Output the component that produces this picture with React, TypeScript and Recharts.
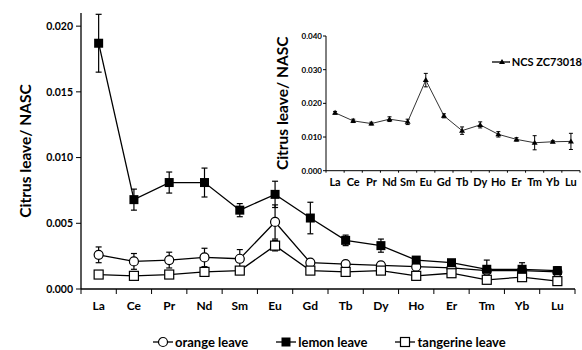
import { ErrorBar, Legend, Line, LineChart, XAxis, YAxis } from "recharts";

const elements = ["La", "Ce", "Pr", "Nd", "Sm", "Eu", "Gd", "Tb", "Dy", "Ho", "Er", "Tm", "Yb", "Lu"];

const orange = [0.0026, 0.0021, 0.0022, 0.0024, 0.0023, 0.0051, 0.002, 0.0019, 0.0018, 0.0017, 0.0016, 0.0014, 0.0014, 0.0013];
const orangeErr = [0.0006, 0.0006, 0.0006, 0.0007, 0.0007, 0.0013, 0.0002, 0.0002, 0.0002, 0.0002, 0.0002, 0.0002, 0.0002, 0.0002];
const lemon = [0.0187, 0.0068, 0.0081, 0.0081, 0.006, 0.0072, 0.0054, 0.0037, 0.0033, 0.0022, 0.002, 0.0015, 0.0015, 0.0014];
const lemonErr = [0.0022, 0.0008, 0.0008, 0.0011, 0.0005, 0.001, 0.0012, 0.0004, 0.0005, 0.0002, 0.0002, 0.0007, 0.0005, 0.0003];
const tangerine = [0.0011, 0.001, 0.0011, 0.0013, 0.0014, 0.0033, 0.0014, 0.0013, 0.0014, 0.001, 0.0012, 0.0007, 0.0009, 0.0006];
const tangerineErr = [0.0001, 0.0001, 0.0001, 0.0001, 0.0001, 0.0004, 0.0001, 0.0001, 0.0001, 0.0001, 0.0001, 0.0001, 0.0001, 0.0001];

const ncs = [0.0172, 0.0148, 0.014, 0.0153, 0.0145, 0.0269, 0.0163, 0.0119, 0.0136, 0.0108, 0.0093, 0.0083, 0.0086, 0.0087];
const ncsErr = [0.0004, 0.0005, 0.0004, 0.0007, 0.0008, 0.002, 0.0006, 0.0011, 0.0009, 0.0008, 0.0005, 0.0021, 0.0003, 0.0024];

const mainTicks = [0, 0.005, 0.01, 0.015, 0.02];
const insetTicks = [0, 0.01, 0.02, 0.03, 0.04];

const FONT = "Lato, 'Open Sans', sans-serif";
const INK = "#000";

const mainData = elements.map((el, i) => ({
  el,
  orange: orange[i],
  orangeErr: orangeErr[i],
  lemon: lemon[i],
  lemonErr: lemonErr[i],
  tangerine: tangerine[i],
  tangerineErr: tangerineErr[i],
}));

const insetData = elements.map((el, i) => ({ el, ncs: ncs[i], ncsErr: ncsErr[i] }));

// category tick: label at band centre, tick mark on band edges
const bandTick = (fontSize: number, baseline: number, markLen: number) => (props: any) => {
  const { x, y, payload, index, visibleTicksCount, width } = props;
  const half = payload.offset || width / visibleTicksCount / 2;
  const isLast = index === visibleTicksCount - 1;
  return (
    <g>
      <line x1={x - half} x2={x - half} y1={y} y2={y + markLen} stroke={INK} strokeWidth={1} />
      {isLast && <line x1={x + half} x2={x + half} y1={y} y2={y + markLen} stroke={INK} strokeWidth={1} />}
      <text x={x} y={y + baseline} textAnchor="middle" fontSize={fontSize} fontWeight={700} fontFamily={FONT} fill={INK}>
        {payload.value}
      </text>
    </g>
  );
};

const yTitle = (x: number, fontSize: number) => (props: any) => {
  const vb = props.viewBox;
  const cy = vb.y + vb.height / 2;
  return (
    <text
      x={x}
      y={cy}
      transform={`rotate(-90 ${x} ${cy})`}
      textAnchor="middle"
      dominantBaseline="central"
      fontSize={fontSize}
      fontWeight={700}
      fontFamily={FONT}
      fill={INK}
    >
      Citrus leave/ NASC
    </text>
  );
};

const OpenCircle = (props: any) => {
  const { cx, cy, index } = props;
  return <circle key={`o-${index}`} cx={cx} cy={cy} r={4.5} fill="#fff" stroke={INK} strokeWidth={1.2} />;
};
const FilledSquare = (props: any) => {
  const { cx, cy, index } = props;
  return <rect key={`l-${index}`} x={cx - 4.5} y={cy - 4.5} width={9} height={9} fill={INK} />;
};
const OpenSquare = (props: any) => {
  const { cx, cy, index } = props;
  return <rect key={`t-${index}`} x={cx - 4.5} y={cy - 4.5} width={9} height={9} fill="#fff" stroke={INK} strokeWidth={1.2} />;
};
const Triangle = (props: any) => {
  const { cx, cy, index } = props;
  return <path key={`n-${index}`} d={`M${cx},${cy - 3} L${cx + 3},${cy + 2} L${cx - 3},${cy + 2} Z`} fill={INK} />;
};

const legendIcon = (kind: string) => (
  <svg width={20} height={12} style={{ display: "block" }}>
    <line x1={0} x2={20} y1={6} y2={6} stroke={INK} strokeWidth={1.3} />
    {kind === "orange" && <circle cx={10} cy={6} r={4.5} fill="#fff" stroke={INK} strokeWidth={1.2} />}
    {kind === "lemon" && <rect x={5.5} y={1.5} width={9} height={9} fill={INK} />}
    {kind === "tangerine" && <rect x={5.5} y={1.5} width={9} height={9} fill="#fff" stroke={INK} strokeWidth={1.2} />}
    {kind === "ncs" && <path d="M10,3 L13,8 L7,8 Z" fill={INK} />}
  </svg>
);

const legendItems = [
  { kind: "orange", label: "orange leave" },
  { kind: "lemon", label: "lemon leave" },
  { kind: "tangerine", label: "tangerine leave" },
];

const MainLegend = () => (
  <div style={{ display: "flex", alignItems: "center", gap: 28, paddingLeft: 153, fontFamily: FONT, fontWeight: 700, fontSize: 13, lineHeight: "14px" }}>
    {legendItems.map((it) => (
      <div key={it.kind} style={{ display: "flex", alignItems: "center", gap: 2 }}>
        {legendIcon(it.kind)}
        <span>{it.label}</span>
      </div>
    ))}
  </div>
);

const InsetLegend = () => (
  <div style={{ display: "flex", alignItems: "center", gap: 2, fontFamily: FONT, fontWeight: 700, fontSize: 11, whiteSpace: "nowrap" }}>
    {legendIcon("ncs")}
    <span>NCS ZC73018</span>
  </div>
);

export default function App() {
  return (
    <div style={{ position: "absolute", left: 0, top: 0, width: 582, height: 350, background: "#fff", overflow: "hidden" }}>
      <div style={{ position: "absolute", left: 0, top: 0 }}>
        <LineChart width={582} height={350} data={mainData} margin={{ top: 13, right: 7, left: 0, bottom: 31 }}>
          <XAxis
            dataKey="el"
            scale="band"
            height={30}
            tickLine={false}
            tickSize={0}
            tickMargin={0}
            axisLine={{ stroke: INK, strokeWidth: 1.3 }}
            tick={bandTick(12, 21, 5)}
            interval={0}
          />
          <YAxis
            width={81}
            domain={[0, 0.021]}
            ticks={mainTicks}
            tickFormatter={(v: number) => v.toFixed(3)}
            tickSize={5}
            tickMargin={3}
            axisLine={{ stroke: INK, strokeWidth: 1.3 }}
            tickLine={{ stroke: INK }}
            tick={{ fill: INK, fontSize: 10.5, fontWeight: 700, fontFamily: FONT }}
            label={{ content: yTitle(25, 15.5) }}
          />
          <Line dataKey="orange" stroke={INK} strokeWidth={1.3} dot={OpenCircle} isAnimationActive={false}>
            <ErrorBar dataKey="orangeErr" width={3} stroke={INK} strokeWidth={1.2} />
          </Line>
          <Line dataKey="tangerine" stroke={INK} strokeWidth={1.3} dot={OpenSquare} isAnimationActive={false}>
            <ErrorBar dataKey="tangerineErr" width={3} stroke={INK} strokeWidth={1.2} />
          </Line>
          <Line dataKey="lemon" stroke={INK} strokeWidth={1.3} dot={FilledSquare} isAnimationActive={false}>
            <ErrorBar dataKey="lemonErr" width={3} stroke={INK} strokeWidth={1.2} />
          </Line>
        </LineChart>
      </div>
      <div style={{ position: "absolute", left: 0, top: 335, width: 582 }}>
        <MainLegend />
      </div>
      <div style={{ position: "absolute", left: 240, top: 0 }}>
        <LineChart width={342} height={200} data={insetData} margin={{ top: 36, right: 2, left: 0, bottom: 0 }}>
          <XAxis
            dataKey="el"
            scale="band"
            height={29.3}
            tickLine={false}
            tickSize={0}
            tickMargin={0}
            axisLine={{ stroke: INK, strokeWidth: 1 }}
            tick={bandTick(11, 15, 2)}
            interval={0}
          />
          <YAxis
            width={86}
            domain={[0, 0.04]}
            ticks={insetTicks}
            tickFormatter={(v: number) => v.toFixed(3)}
            tickSize={3}
            tickMargin={1}
            axisLine={{ stroke: INK, strokeWidth: 1 }}
            tickLine={{ stroke: INK }}
            tick={{ fill: INK, fontSize: 8, fontWeight: 700, fontFamily: FONT }}
            label={{ content: yTitle(42, 15.5) }}
          />
          <Line dataKey="ncs" stroke="#333" strokeWidth={1} dot={Triangle} isAnimationActive={false}>
            <ErrorBar dataKey="ncsErr" width={2} stroke={INK} strokeWidth={1} />
          </Line>
          <Legend
            verticalAlign="middle"
            layout="horizontal"
            content={<InsetLegend />}
            wrapperStyle={{ position: "absolute", left: 252, top: 55, width: 90 }}
          />
        </LineChart>
      </div>
    </div>
  );
}
